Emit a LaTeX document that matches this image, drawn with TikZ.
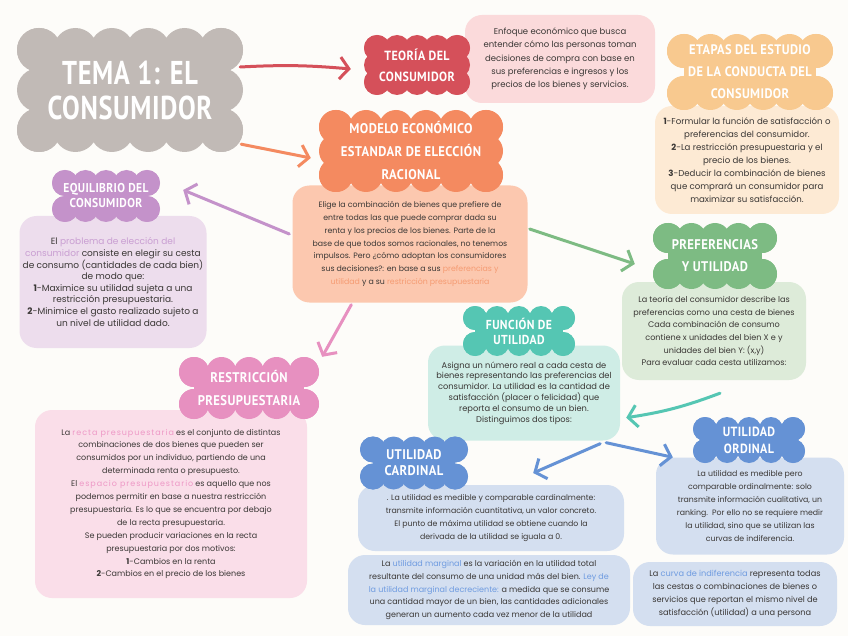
\documentclass[tikz,border=0pt]{standalone}
\usepackage{fontspec}
\setmainfont{Poppins}
\newfontfamily\headfont{PT Sans}[FakeStretch=0.9, LetterSpace=3]
\newfontfamily\titlefont{PT Sans}[FakeStretch=0.8, LetterSpace=2]
\newfontfamily\spacedfont{Poppins}[LetterSpace=12]
\usetikzlibrary{arrows.meta,calc}
\definecolor{bgc}{HTML}{FDFCF9}
\definecolor{txt}{HTML}{3A3735}
\definecolor{cgray}{HTML}{C1BAB6}
\definecolor{cred}{HTML}{D5505A}
\definecolor{bred}{HTML}{FBDADB}
\definecolor{clor}{HTML}{F8C98F}
\definecolor{blor}{HTML}{FDEAD4}
\definecolor{cor}{HTML}{F48A60}
\definecolor{bor}{HTML}{FCC8AF}
\definecolor{hor}{HTML}{F59B72}
\definecolor{cpu}{HTML}{C492CA}
\definecolor{bpu}{HTML}{EDDDED}
\definecolor{hpu}{HTML}{C99ED2}
\definecolor{cgr}{HTML}{7DBB83}
\definecolor{bgr}{HTML}{DDEBD9}
\definecolor{cte}{HTML}{55C6B3}
\definecolor{bte}{HTML}{CFEDE6}
\definecolor{cpk}{HTML}{E790C0}
\definecolor{bpk}{HTML}{FADEE9}
\definecolor{hpk}{HTML}{EE98C6}
\definecolor{cbl}{HTML}{6592D5}
\definecolor{bbl}{HTML}{D4DFF0}
\definecolor{hbl}{HTML}{6E9BE0}
\newcommand\hlo[1]{\textcolor{hor}{#1}}
\newcommand\hlp[1]{\textcolor{hpu}{#1}}
\newcommand\hlk[1]{\textcolor{hpk}{\spacedfont #1}}
\newcommand\hlb[1]{\textcolor{hbl}{#1}}
\newcommand\bsz{\fontsize{7.8}{12.9}\selectfont}
\newcommand\hsz[2]{\headfont\bfseries\fontsize{#1}{#2}\selectfont}
\newcommand\cloudnode[9]{%
  \pgfmathsetmacro\cxa{#2-#4/2+#6}%
  \pgfmathsetmacro\cxb{#2+#4/2-#6}%
  \pgfmathsetmacro\cya{#3-#5/2+#6}%
  \pgfmathsetmacro\cyb{#3+#5/2-#6}%
  \pgfmathtruncatemacro\cnx{max(1,round((\cxb-\cxa)/(1.7*#6)))}%
  \pgfmathtruncatemacro\cny{max(1,round((\cyb-\cya)/(1.7*#6)))}%
  \fill[#7] (\cxa,\cya) rectangle (\cxb,\cyb);
  \foreach \ci in {0,...,\cnx}{%
    \fill[#7] ({\cxa+\ci*(\cxb-\cxa)/\cnx},\cya) circle[radius=#6pt];
    \fill[#7] ({\cxa+\ci*(\cxb-\cxa)/\cnx},\cyb) circle[radius=#6pt];}
  \foreach \cj in {0,...,\cny}{%
    \fill[#7] (\cxa,{\cya+\cj*(\cyb-\cya)/\cny}) circle[radius=#6pt];
    \fill[#7] (\cxb,{\cya+\cj*(\cyb-\cya)/\cny}) circle[radius=#6pt];}
  \node[headtxt, font={#8}, minimum width=#4pt, minimum height=#5pt] (#1) at (#2,#3) {#9};
}
\tikzset{
  headtxt/.style={align=center, text=white, inner sep=0pt},
  bodybox/.style={rounded corners=17pt, align=center, text=txt, font=\bsz, inner sep=0pt},
  arr/.style={line width=3pt, line cap=round, line join=round, -{Straight Barb[length=9pt,width=22pt]}}
}
\begin{document}
\begin{tikzpicture}[x=1pt,y=-1pt]
\fill[bgc] (0,0) rectangle (848,636);
\useasboundingbox (0,0) rectangle (848,636);

% body boxes
\node[bodybox, fill=bred, minimum width=190pt, minimum height=88pt, font=\fontsize{8.5}{13.3}\selectfont] (teoriaB) at (560,59)
 {Enfoque económico que busca\\entender cómo las personas toman\\decisiones de compra con base en\\sus preferencias e ingresos y los\\precios de los bienes y servicios.};
\node[bodybox, fill=blor, minimum width=184pt, minimum height=108pt, font=\fontsize{8.6}{13.1}\selectfont] (etapasB) at (747,160)
 {\textbf{1}-Formular la función de satisfacción o\\preferencias del consumidor.\\\textbf{2}-La restricción presupuestaria y el\\precio de los bienes.\\\textbf{3}-Deducir la combinación de bienes\\que comprará un consumidor para\\maximizar su satisfacción.};
\node[bodybox, fill=bor, minimum width=235pt, minimum height=117pt] (modelB) at (410,244)
 {Elige la combinación de bienes que prefiere de\\entre todas las que puede comprar dada su\\renta y los precios de los bienes. Parte de la\\base de que todos somos racionales, no tenemos\\impulsos. Pero ¿cómo adoptan los consumidores\\sus decisiones?: en base a sus \hlo{preferencias y}\\\hlo{utilidad} y a su \hlo{restricción presupuestaria}};
\node[bodybox, fill=bpu, minimum width=187pt, minimum height=132pt, font=\fontsize{9}{11.6}\selectfont] (equiB) at (113,282)
 {El \hlp{problema de elección del}\\\hlp{consumidor} consiste en elegir su cesta\\de consumo (cantidades de cada bien)\\de modo que:\\\textbf{1}-Maximice su utilidad sujeta a una\\restricción presupuestaria.\\\textbf{2}-Minimice el gasto realizado sujeto a\\un nivel de utilidad dado.};
\node[bodybox, fill=bgr, minimum width=184pt, minimum height=98pt, font=\fontsize{8.1}{12.6}\selectfont] (prefB) at (714,331)
 {La teoría del consumidor describe las\\preferencias como una cesta de bienes\\Cada combinación de consumo\\contiene x unidades del bien X e y\\unidades del bien Y: (x,y)\\Para evaluar cada cesta utilizamos:};
\node[bodybox, fill=bte, minimum width=192pt, minimum height=95pt, font=\fontsize{8.3}{10.8}\selectfont] (funcB) at (524,393)
 {Asigna un número real a cada cesta de\\bienes representando las preferencias del\\consumidor. La utilidad es la cantidad de\\satisfacción (placer o felicidad) que\\reporta el consumo de un bien.\\Distinguimos dos tipos:};
\node[bodybox, fill=bpk, minimum width=272pt, minimum height=188pt, font=\fontsize{8}{12.9}\selectfont] (restB) at (171,504)
 {La \hlk{recta presupuestaria} es el conjunto de distintas\\combinaciones de dos bienes que pueden ser\\consumidos por un individuo, partiendo de una\\determinada renta o presupuesto.\\El \hlk{espacio presupuestario} es aquello que nos\\podemos permitir en base a nuestra restricción\\presupuestaria. Es lo que se encuentra por debajo\\de la recta presupuestaria.\\Se pueden producir variaciones en la recta\\presupuestaria por dos motivos:\\\textbf{1}-Cambios en la renta\\\textbf{2}-Cambios en el precio de los bienes};
\node[bodybox, fill=bbl, minimum width=266pt, minimum height=66pt] (cardB) at (491,518)
 {. La utilidad es medible y comparable cardinalmente:\\transmite información cuantitativa, un valor concreto.\\El punto de máxima utilidad se obtiene cuando la\\derivada de la utilidad se iguala a 0.};
\node[bodybox, fill=bbl, minimum width=282pt, minimum height=70pt, font=\fontsize{8}{12.9}\selectfont] (margB) at (489,590)
 {La \hlb{utilidad marginal} es la variación en la utilidad total\\resultante del consumo de una unidad más del bien. \hlb{Ley de}\\\hlb{la utilidad marginal decreciente:} a medida que se consume\\una cantidad mayor de un bien, las cantidades adicionales\\generan un aumento cada vez menor de la utilidad};
\node[bodybox, fill=bbl, minimum width=188pt, minimum height=97pt] (ordB) at (750,506)
 {La utilidad es medible pero\\comparable ordinalmente: solo\\transmite información cualitativa, un\\ranking.\ \ Por ello no se requiere medir\\la utilidad, sino que se utilizan las\\curvas de indiferencia.};
\node[bodybox, fill=bbl, minimum width=204pt, minimum height=64pt, font=\fontsize{8.2}{12.9}\selectfont] (curvB) at (735,594)
 {La \hlb{curva de indiferencia} representa todas\\las cestas o combinaciones de bienes o\\servicios que reportan el mismo nivel de\\satisfacción (utilidad) a una persona};

% cloud headers
\cloudnode{titleC}{130}{90}{226}{124}{22}{cgray}{\titlefont\bfseries\fontsize{33}{35}\selectfont}{TEMA 1: EL\\CONSUMIDOR}
\cloudnode{teoriaH}{417}{65}{106}{60}{13}{cred}{\hsz{13.3}{21}}{TEORÍA DEL\\CONSUMIDOR}
\cloudnode{etapasH}{750}{72}{166}{76}{17}{clor}{\hsz{13.8}{22}}{ETAPAS DEL ESTUDIO\\DE LA CONDUCTA DEL\\CONSUMIDOR}
\cloudnode{modelH}{411}{151}{184}{82}{17}{cor}{\hsz{14}{23}}{MODELO ECONÓMICO\\ESTANDAR DE ELECCIÓN\\RACIONAL}
\cloudnode{equiH}{106}{196}{108}{52}{13}{cpu}{\hsz{12.8}{15}}{EQUILIBRIO DEL\\CONSUMIDOR}
\cloudnode{prefH}{715}{256}{124}{66}{15}{cgr}{\hsz{14}{22}}{PREFERENCIAS\\Y UTILIDAD}
\cloudnode{funcH}{519}{331}{112}{50}{12}{cte}{\hsz{13}{15}}{FUNCIÓN DE\\UTILIDAD}
\cloudnode{restH}{249}{388}{140}{62}{15}{cpk}{\hsz{14}{23}}{RESTRICCIÓN\\PRESUPUESTARIA}
\cloudnode{cardH}{414}{463}{108}{53}{13}{cbl}{\hsz{14}{16}}{UTILIDAD\\CARDINAL}
\cloudnode{ordH}{749}{440}{112}{46}{12}{cbl}{\hsz{13.3}{17}}{UTILIDAD\\ORDINAL}

% connectors
\draw[arr, cred] ($(titleC.east)+(-3,-23)$) to[bend left=4] ($(teoriaH.west)+(-13,4)$);
\draw[arr, cor] ($(titleC.south east)+(-2,-8)$) -- ($(modelH.west)+(-8,7)$);
\draw[arr, cpu] ($(modelB.west)+(-3,-10)$) -- ($(equiH.east)+(23,-6)$);
\draw[arr, cgr] ($(modelB.east)+(2,-15)$) -- ($(prefH.west)+(-18,8)$);
\draw[arr, cpk] ($(modelB.south west)+(59,2)$) -- ($(restH.north east)+(3,0)$);
\draw[arr, cte] ($(prefB.south)+(6,13)$) to[bend left=6] ($(funcB.south east)+(6,-23)$);
\draw[arr, cbl] ($(funcB.south east)+(-20,3)$) -- ($(cardH.east)+(65,10)$);
\draw[arr, cbl] ($(funcB.south east)+(-14,2)$) -- ($(ordB.north west)+(17,0)$);
\end{tikzpicture}
\end{document}
